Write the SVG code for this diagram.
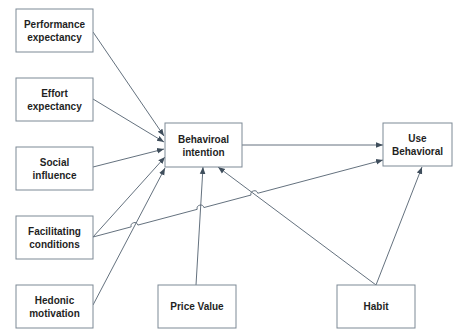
<svg xmlns="http://www.w3.org/2000/svg" width="453" height="331" viewBox="0 0 453 331">
<style>
.box{fill:#fff;stroke:#7d8995;stroke-width:1}
.t{font-family:"Liberation Sans",Arial,sans-serif;font-weight:bold;font-size:10px;fill:#1f1f1f;text-anchor:middle}
.c{fill:none;stroke:#52616f;stroke-width:0.9}
</style>
<defs>
<marker id="ah" markerUnits="userSpaceOnUse" markerWidth="8" markerHeight="8" viewBox="0 0 8 8" refX="7" refY="4" orient="auto">
<path d="M0,1.2 L7,4 L0,6.8 Z" fill="#3f4e5c"/>
</marker>
</defs>
<rect width="453" height="331" fill="#fff"/>
<g id="connectors">
<line class="c" x1="93" y1="32" x2="164" y2="136" marker-end="url(#ah)"/>
<line class="c" x1="93" y1="99" x2="164" y2="142" marker-end="url(#ah)"/>
<line class="c" x1="93" y1="167" x2="164" y2="149" marker-end="url(#ah)"/>
<line class="c" x1="93" y1="237" x2="165" y2="157" marker-end="url(#ah)"/>
<line class="c" x1="93" y1="305" x2="165" y2="168" marker-end="url(#ah)"/>
<line class="c" x1="196" y1="285" x2="203" y2="167" marker-end="url(#ah)"/>
<line class="c" x1="376" y1="285" x2="218" y2="167" marker-end="url(#ah)"/>
<line class="c" x1="376" y1="285" x2="422" y2="167" marker-end="url(#ah)"/>
<line class="c" x1="242" y1="145" x2="383" y2="145" marker-end="url(#ah)"/>
<path class="c" d="M93,237 L131.15,226.87 A3.5,3.5 0 0 1 137.91,225.07 L197.16,209.35 A3.5,3.5 0 0 1 203.92,207.55 L250.98,195.06 A3.5,3.5 0 0 1 257.74,193.26 L383,160" marker-end="url(#ah)"/>
</g>
<g id="performance"><rect class="box" x="16" y="9" width="77" height="43"/><text class="t" x="54.5" y="27.5">Performance</text><text class="t" x="54.5" y="40.5">expectancy</text></g>
<g id="effort"><rect class="box" x="16" y="78" width="77" height="43"/><text class="t" x="54.5" y="96.5">Effort</text><text class="t" x="54.5" y="109.5">expectancy</text></g>
<g id="social"><rect class="box" x="16" y="147" width="77" height="43"/><text class="t" x="54.5" y="165.5">Social</text><text class="t" x="54.5" y="178.5">influence</text></g>
<g id="facilitating"><rect class="box" x="16" y="216" width="77" height="43"/><text class="t" x="54.5" y="234.5">Facilitating</text><text class="t" x="54.5" y="247.5">conditions</text></g>
<g id="hedonic"><rect class="box" x="16" y="285" width="77" height="43"/><text class="t" x="54.5" y="303.5">Hedonic</text><text class="t" x="54.5" y="316.5">motivation</text></g>
<g id="intention"><rect class="box" x="165" y="123" width="77" height="44"/><text class="t" x="203.5" y="142.5">Behaviroal</text><text class="t" x="203.5" y="155.5">intention</text></g>
<g id="use"><rect class="box" x="383" y="123" width="69" height="43"/><text class="t" x="417.5" y="142">Use</text><text class="t" x="417.5" y="155">Behavioral</text></g>
<g id="price"><rect class="box" x="158" y="285" width="78" height="43"/><text class="t" x="197" y="310">Price Value</text></g>
<g id="habit"><rect class="box" x="337" y="285" width="78" height="43"/><text class="t" x="376" y="310">Habit</text></g>
</svg>
